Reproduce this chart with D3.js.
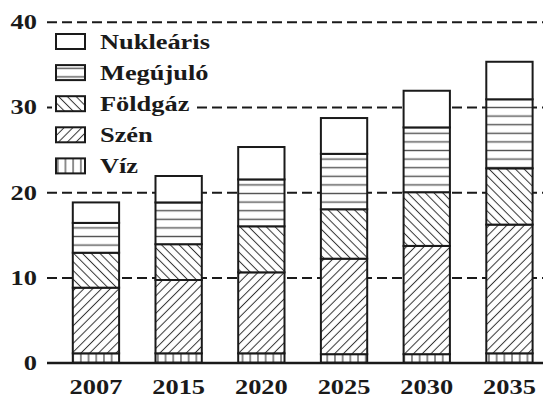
<!DOCTYPE html>
<html>
<head>
<meta charset="utf-8">
<script src="https://cdn.jsdelivr.net/npm/d3@7"></script>
<style>
  body { margin: 0; background: #fff; }
  svg { display: block; }
  text { font-family: "Liberation Serif", "Times New Roman", serif; font-weight: bold; fill: #1a1a1a; }
</style>
</head>
<body>
<script>
// Electricity generation by source (stacked), per year
const years = ["2007", "2015", "2020", "2025", "2030", "2035"];
const viz = [1.1, 1.1, 1.1, 1.0, 1.0, 1.1];
const szen = [7.7, 8.6, 9.5, 11.2, 12.7, 15.1];
const foldgaz = [4.1, 4.2, 5.4, 5.8, 6.3, 6.6];
const megujulo = [3.5, 4.9, 5.5, 6.5, 7.6, 8.1];
const nuklearis = [2.4, 3.1, 3.8, 4.2, 4.3, 4.4];
const seriesKeys = ["viz", "szen", "foldgaz", "megujulo", "nuklearis"];
const seriesLabels = ["Víz", "Szén", "Földgáz", "Megújuló", "Nukleáris"];
const yTicks = [0, 10, 20, 30, 40];

const W = 543, H = 399;
const FONT = 22, STRETCH = 1.2;

const table = years.map((yr, i) => ({
  year: yr, viz: viz[i], szen: szen[i], foldgaz: foldgaz[i],
  megujulo: megujulo[i], nuklearis: nuklearis[i]
}));
const stacked = d3.stack().keys(seriesKeys)(table);

const svg = d3.select("body").append("svg").attr("width", W).attr("height", H);

const x = d3.scaleBand().domain(years).range([54.6, 550.8])
  .paddingInner(0.44).paddingOuter(0.22);
const y = d3.scaleLinear().domain([0, 40]).range([362.7, 21.7]);

// hatch patterns
const defs = svg.append("defs");
function pat(id, w, h, rot, draw) {
  const p = defs.append("pattern").attr("id", id)
    .attr("patternUnits", "userSpaceOnUse")
    .attr("width", w).attr("height", h);
  if (rot) p.attr("patternTransform", `rotate(${rot})`);
  p.append("rect").attr("width", w).attr("height", h).attr("fill", "#fff");
  draw(p, w, h);
}
pat("p-viz", 7.7, 10, 0, (p, w, h) =>
  p.append("line").attr("x1", w / 2).attr("x2", w / 2).attr("y1", 0).attr("y2", h)
    .attr("stroke", "#333").attr("stroke-width", 1.1));
pat("p-szen", 6.2, 10, 45, (p, w, h) =>
  p.append("line").attr("x1", w / 2).attr("x2", w / 2).attr("y1", 0).attr("y2", h)
    .attr("stroke", "#333").attr("stroke-width", 1));
pat("p-foldgaz", 6.2, 10, -45, (p, w, h) =>
  p.append("line").attr("x1", w / 2).attr("x2", w / 2).attr("y1", 0).attr("y2", h)
    .attr("stroke", "#333").attr("stroke-width", 1));
pat("p-megujulo", 10, 8.6, 0, (p, w, h) =>
  p.append("line").attr("x1", 0).attr("x2", w).attr("y1", h / 2).attr("y2", h / 2)
    .attr("stroke", "#555").attr("stroke-width", 1.4));
pat("p-nuklearis", 10, 10, 0, () => {});

const fills = {
  viz: "url(#p-viz)", szen: "url(#p-szen)", foldgaz: "url(#p-foldgaz)",
  megujulo: "url(#p-megujulo)", nuklearis: "url(#p-nuklearis)"
};

// y axis with dashed gridlines
const yAxis = svg.append("g").attr("transform", "translate(47,0)")
  .call(d3.axisLeft(y).tickValues(yTicks).tickSize(-(W - 47)).tickPadding(0));
yAxis.select(".domain").remove();
yAxis.selectAll(".tick line")
  .attr("stroke", "#1a1a1a").attr("stroke-width", 2)
  .attr("stroke-dasharray", d => d === 0 ? null : "10,5");
yAxis.selectAll(".tick text")
  .attr("x", -10 / STRETCH)
  .attr("transform", `scale(${STRETCH},1)`)
  .style("font-size", FONT + "px");
yAxis.attr("font-family", null).attr("font-size", null);

// stacked bars
svg.append("g").selectAll("g").data(stacked).join("g")
  .attr("fill", d => fills[d.key])
  .selectAll("rect").data(d => d).join("rect")
  .attr("x", d => x(d.data.year))
  .attr("width", x.bandwidth())
  .attr("y", d => y(d[1]))
  .attr("height", d => y(d[0]) - y(d[1]))
  .attr("stroke", "#1a1a1a").attr("stroke-width", 2);

// baseline over the bars
svg.append("line").attr("x1", 47).attr("x2", W)
  .attr("y1", y(0)).attr("y2", y(0))
  .attr("stroke", "#1a1a1a").attr("stroke-width", 2);

// x axis labels
const xAxis = svg.append("g").attr("transform", `translate(0,${y(0)})`)
  .call(d3.axisBottom(x).tickSize(0).tickPadding(0));
xAxis.select(".domain").remove();
xAxis.attr("font-family", null).attr("font-size", null);
xAxis.selectAll(".tick text")
  .attr("y", 31.5).attr("dy", null)
  .attr("transform", `scale(${STRETCH},1)`)
  .style("font-size", FONT + "px");

// legend
const legendOrder = [4, 3, 2, 1, 0];
const legend = svg.append("g");
legendOrder.forEach((si, row) => {
  const cy = 41.5 + row * 31.1;
  const g = legend.append("g").attr("transform", `translate(0,${cy})`);
  const bg = g.append("rect").attr("x", 52).attr("y", -11).attr("height", 22).attr("fill", "#fff");
  g.append("rect").attr("x", 56).attr("y", -7.5).attr("width", 29).attr("height", 15)
    .attr("fill", fills[seriesKeys[si]])
    .attr("stroke", "#1a1a1a").attr("stroke-width", 2);
  const t = g.append("text").attr("x", 100 / STRETCH).attr("dy", "0.34em")
    .attr("transform", `scale(${STRETCH},1)`)
    .style("font-size", FONT + "px")
    .text(seriesLabels[si]);
  const len = t.node().getComputedTextLength() * STRETCH;
  bg.attr("width", 100 + len + 5 - 52);
});
</script>
</body>
</html>
